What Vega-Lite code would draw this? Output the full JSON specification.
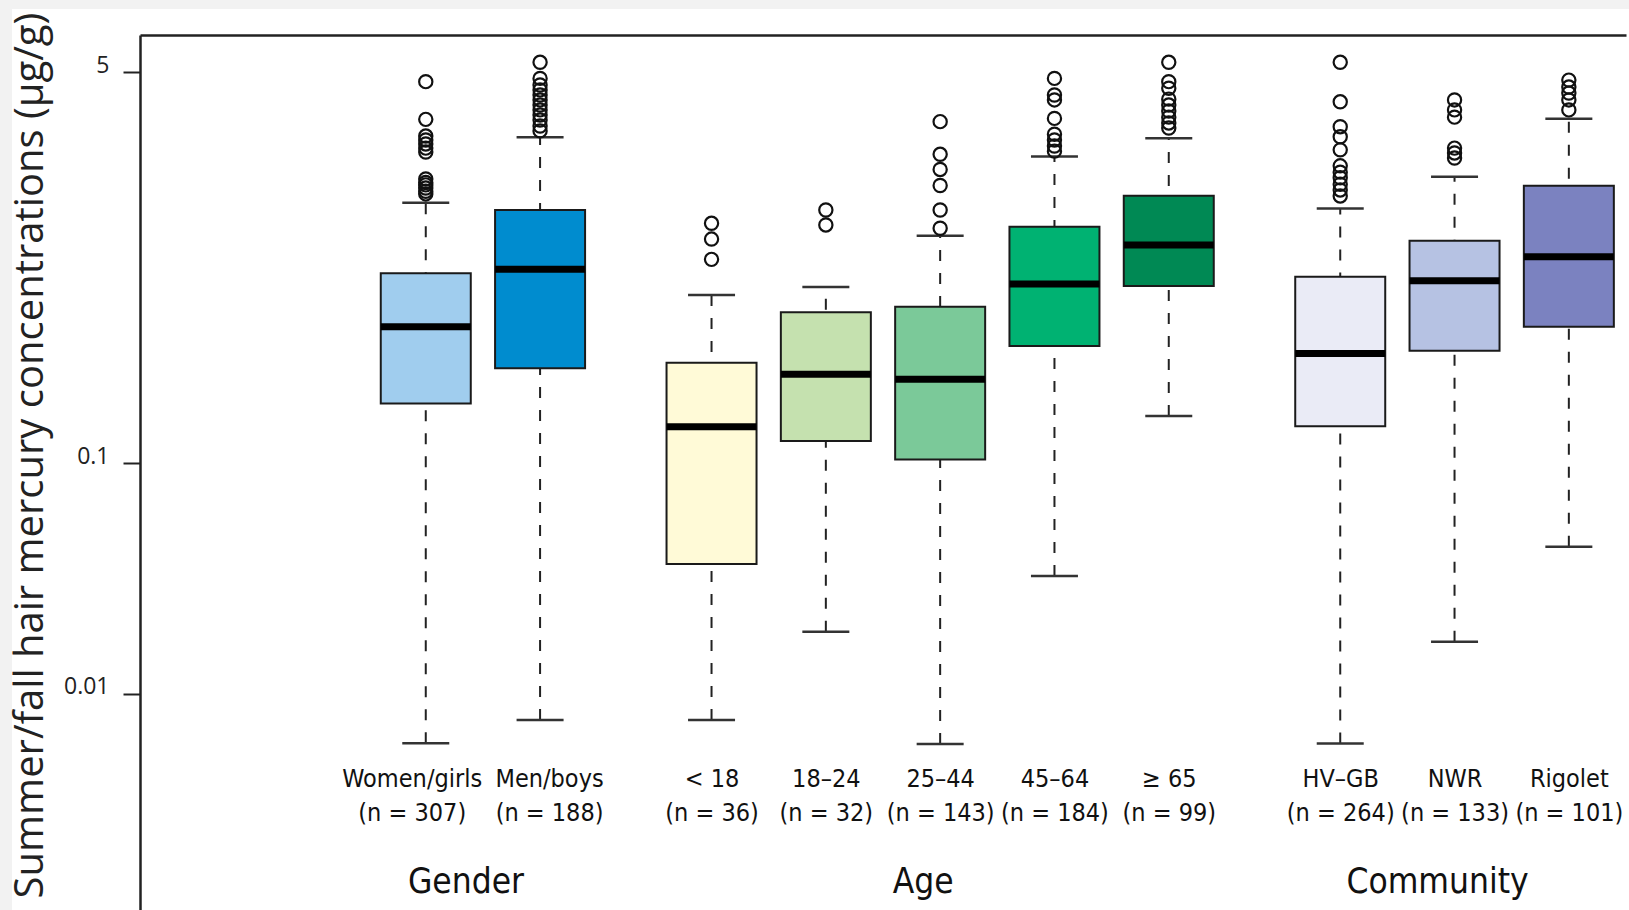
{
  "$schema": "https://vega.github.io/schema/vega-lite/v6.json",
  "width": 1617,
  "height": 901,
  "autosize": {"type": "none"},
  "padding": {"left": 12, "top": 9, "right": 0, "bottom": 0},
  "background": "#f2f2f2",
  "config": {"view": {"stroke": null, "fill": "#ffffff"}},
  "datasets": {
    "boxes": [
      {"label": "Women/girls (n = 307)", "group": "Gender", "lower": 0.00608, "q1": 0.182, "median": 0.392, "q3": 0.669, "upper": 1.356},
      {"label": "Men/boys (n = 188)", "group": "Gender", "lower": 0.00767, "q1": 0.259, "median": 0.697, "q3": 1.26, "upper": 2.61},
      {"label": "< 18 (n = 36)", "group": "Age", "lower": 0.00767, "q1": 0.0365, "median": 0.144, "q3": 0.2735, "upper": 0.538},
      {"label": "18–24 (n = 32)", "group": "Age", "lower": 0.01855, "q1": 0.125, "median": 0.244, "q3": 0.453, "upper": 0.583},
      {"label": "25–44 (n = 143)", "group": "Age", "lower": 0.00604, "q1": 0.104, "median": 0.232, "q3": 0.479, "upper": 0.975},
      {"label": "45–64 (n = 184)", "group": "Age", "lower": 0.0324, "q1": 0.323, "median": 0.601, "q3": 1.067, "upper": 2.15},
      {"label": "≥ 65 (n = 99)", "group": "Age", "lower": 0.1605, "q1": 0.589, "median": 0.888, "q3": 1.454, "upper": 2.58},
      {"label": "HV–GB (n = 264)", "group": "Community", "lower": 0.00607, "q1": 0.145, "median": 0.300, "q3": 0.646, "upper": 1.28},
      {"label": "NWR (n = 133)", "group": "Community", "lower": 0.0168, "q1": 0.308, "median": 0.621, "q3": 0.927, "upper": 1.758},
      {"label": "Rigolet (n = 101)", "group": "Community", "lower": 0.0434, "q1": 0.392, "median": 0.790, "q3": 1.607, "upper": 3.14}
    ],
    "outliers": [
      {"label": "Women/girls (n = 307)", "value": 4.55},
      {"label": "Women/girls (n = 307)", "value": 3.12},
      {"label": "Women/girls (n = 307)", "value": 2.64},
      {"label": "Women/girls (n = 307)", "value": 2.54},
      {"label": "Women/girls (n = 307)", "value": 2.44},
      {"label": "Women/girls (n = 307)", "value": 2.34},
      {"label": "Women/girls (n = 307)", "value": 2.25},
      {"label": "Women/girls (n = 307)", "value": 1.72},
      {"label": "Women/girls (n = 307)", "value": 1.66},
      {"label": "Women/girls (n = 307)", "value": 1.62},
      {"label": "Women/girls (n = 307)", "value": 1.57},
      {"label": "Women/girls (n = 307)", "value": 1.52},
      {"label": "Women/girls (n = 307)", "value": 1.48},
      {"label": "Men/boys (n = 188)", "value": 5.52},
      {"label": "Men/boys (n = 188)", "value": 4.70},
      {"label": "Men/boys (n = 188)", "value": 4.40},
      {"label": "Men/boys (n = 188)", "value": 4.19},
      {"label": "Men/boys (n = 188)", "value": 3.98},
      {"label": "Men/boys (n = 188)", "value": 3.79},
      {"label": "Men/boys (n = 188)", "value": 3.60},
      {"label": "Men/boys (n = 188)", "value": 3.43},
      {"label": "Men/boys (n = 188)", "value": 3.26},
      {"label": "Men/boys (n = 188)", "value": 3.10},
      {"label": "Men/boys (n = 188)", "value": 2.92},
      {"label": "Men/boys (n = 188)", "value": 2.78},
      {"label": "< 18 (n = 36)", "value": 1.103},
      {"label": "< 18 (n = 36)", "value": 0.942},
      {"label": "< 18 (n = 36)", "value": 0.769},
      {"label": "18–24 (n = 32)", "value": 1.26},
      {"label": "18–24 (n = 32)", "value": 1.085},
      {"label": "25–44 (n = 143)", "value": 3.05},
      {"label": "25–44 (n = 143)", "value": 2.20},
      {"label": "25–44 (n = 143)", "value": 1.89},
      {"label": "25–44 (n = 143)", "value": 1.61},
      {"label": "25–44 (n = 143)", "value": 1.26},
      {"label": "25–44 (n = 143)", "value": 1.05},
      {"label": "45–64 (n = 184)", "value": 4.70},
      {"label": "45–64 (n = 184)", "value": 3.98},
      {"label": "45–64 (n = 184)", "value": 3.79},
      {"label": "45–64 (n = 184)", "value": 3.15},
      {"label": "45–64 (n = 184)", "value": 2.69},
      {"label": "45–64 (n = 184)", "value": 2.54},
      {"label": "45–64 (n = 184)", "value": 2.39},
      {"label": "45–64 (n = 184)", "value": 2.27},
      {"label": "≥ 65 (n = 99)", "value": 5.52},
      {"label": "≥ 65 (n = 99)", "value": 4.55},
      {"label": "≥ 65 (n = 99)", "value": 4.26},
      {"label": "≥ 65 (n = 99)", "value": 3.82},
      {"label": "≥ 65 (n = 99)", "value": 3.60},
      {"label": "≥ 65 (n = 99)", "value": 3.39},
      {"label": "≥ 65 (n = 99)", "value": 3.19},
      {"label": "≥ 65 (n = 99)", "value": 3.01},
      {"label": "≥ 65 (n = 99)", "value": 2.86},
      {"label": "HV–GB (n = 264)", "value": 5.52},
      {"label": "HV–GB (n = 264)", "value": 3.72},
      {"label": "HV–GB (n = 264)", "value": 2.90},
      {"label": "HV–GB (n = 264)", "value": 2.62},
      {"label": "HV–GB (n = 264)", "value": 2.30},
      {"label": "HV–GB (n = 264)", "value": 1.96},
      {"label": "HV–GB (n = 264)", "value": 1.84},
      {"label": "HV–GB (n = 264)", "value": 1.74},
      {"label": "HV–GB (n = 264)", "value": 1.63},
      {"label": "HV–GB (n = 264)", "value": 1.54},
      {"label": "HV–GB (n = 264)", "value": 1.45},
      {"label": "NWR (n = 133)", "value": 3.79},
      {"label": "NWR (n = 133)", "value": 3.43},
      {"label": "NWR (n = 133)", "value": 3.19},
      {"label": "NWR (n = 133)", "value": 2.34},
      {"label": "NWR (n = 133)", "value": 2.23},
      {"label": "NWR (n = 133)", "value": 2.12},
      {"label": "Rigolet (n = 101)", "value": 4.62},
      {"label": "Rigolet (n = 101)", "value": 4.31},
      {"label": "Rigolet (n = 101)", "value": 4.06},
      {"label": "Rigolet (n = 101)", "value": 3.79},
      {"label": "Rigolet (n = 101)", "value": 3.43}
    ]
  },
  "resolve": {"axis": {"x": "independent"}},
  "layer": [
    {
      "data": {"name": "boxes"},
      "mark": {"type": "rule", "strokeDash": [11, 12], "strokeWidth": 2, "color": "#222222"},
      "encoding": {
        "x": {
          "field": "label", "type": "nominal",
          "scale": {"type": "point", "padding": 0, "range": [128, 1614], "domain": ["_0", "_1", "_2", "_3", "_4", "Women/girls (n = 307)", "Gender", "Men/boys (n = 188)", "_8", "_9", "< 18 (n = 36)", "_11", "18–24 (n = 32)", "_13", "25–44 (n = 143)", "_15", "45–64 (n = 184)", "_17", "≥ 65 (n = 99)", "_19", "_20", "HV–GB (n = 264)", "_22", "NWR (n = 133)", "_24", "Rigolet (n = 101)", "_26"]},
          "axis": {
            "orient": "bottom", "offset": -124,
            "values": ["Women/girls (n = 307)", "Men/boys (n = 188)", "< 18 (n = 36)", "18–24 (n = 32)", "25–44 (n = 143)", "45–64 (n = 184)", "≥ 65 (n = 99)", "HV–GB (n = 264)", "NWR (n = 133)", "Rigolet (n = 101)"],
            "labelExpr": "split(replace(datum.label, ' (', '|('), '|')",
            "labelOffset": {"condition": [{"test": "datum.value == 'Women/girls (n = 307)'", "value": -14}, {"test": "datum.value == 'Men/boys (n = 188)'", "value": 9}], "value": 0},
            "domain": false, "ticks": false, "tickSize": 0, "grid": false, "labelPadding": 0,
            "labelFont": "DejaVu Sans Condensed, Roboto", "labelFontSize": 25, "labelColor": "#111111",
            "labelLineHeight": 34, "labelBaseline": "alphabetic", "labelAngle": 0, "labelAlign": "center",
            "labelOverlap": false, "labelBound": false, "labelFlush": false, "labelLimit": 0, "title": null
          }
        },
        "y": {
          "field": "lower", "type": "quantitative",
          "scale": {"type": "log", "domain": [0.0011468, 7.255], "nice": false, "range": [901, 26]},
          "axis": {
            "orient": "left", "offset": -128,
            "values": [0.01, 0.1, 5], "format": "~g",
            "title": "Summer/fall hair mercury concentrations (µg/g)",
            "titleFont": "Open Sans", "titleFontSize": 40, "titleFontWeight": "normal", "titleColor": "#222222",
            "titleX": -98, "titleY": 446, "titleAngle": 270, "titleAlign": "center", "titleBaseline": "alphabetic",
            "labelFont": "Open Sans", "labelFontSize": 23, "labelColor": "#222222", "labelPadding": 14,
            "labelBaseline": "alphabetic", "labelBound": false, "labelFlush": false, "labelOverlap": false,
            "tickSize": 17, "tickWidth": 2, "tickColor": "#222222",
            "domain": true, "domainWidth": 2.5, "domainColor": "#222222", "grid": false
          }
        },
        "y2": {"field": "upper"}
      }
    },
    {
      "data": {"name": "boxes"},
      "mark": {"type": "tick", "orient": "horizontal", "size": 47, "thickness": 2.5, "color": "#333333", "opacity": 1},
      "encoding": {
        "x": {
          "field": "label", "type": "nominal",
          "scale": {"type": "point", "padding": 0, "range": [128, 1614], "domain": ["_0", "_1", "_2", "_3", "_4", "Women/girls (n = 307)", "Gender", "Men/boys (n = 188)", "_8", "_9", "< 18 (n = 36)", "_11", "18–24 (n = 32)", "_13", "25–44 (n = 143)", "_15", "45–64 (n = 184)", "_17", "≥ 65 (n = 99)", "_19", "_20", "HV–GB (n = 264)", "_22", "NWR (n = 133)", "_24", "Rigolet (n = 101)", "_26"]},
          "axis": {
            "orient": "bottom", "offset": -17.5,
            "values": ["Gender", "25–44 (n = 143)", "NWR (n = 133)"],
            "labelExpr": "datum.value == 'Gender' ? 'Gender' : (datum.value == 'NWR (n = 133)' ? 'Community' : 'Age')",
            "labelOffset": -17.5,
            "domain": false, "ticks": false, "tickSize": 0, "grid": false, "labelPadding": 0,
            "labelFont": "DejaVu Sans Condensed, Roboto", "labelFontSize": 35, "labelColor": "#111111",
            "labelBaseline": "alphabetic", "labelAngle": 0, "labelAlign": "center",
            "labelOverlap": false, "labelBound": false, "labelFlush": false, "labelLimit": 0, "title": null
          }
        },
        "y": {
          "field": "lower", "type": "quantitative",
          "scale": {"type": "log", "domain": [0.0011468, 7.255], "nice": false, "range": [901, 26]},
          "axis": {
            "orient": "left", "offset": -128,
            "values": [0.01, 0.1, 5], "format": "~g",
            "title": "Summer/fall hair mercury concentrations (µg/g)",
            "titleFont": "Open Sans", "titleFontSize": 40, "titleFontWeight": "normal", "titleColor": "#222222",
            "titleX": -98, "titleY": 446, "titleAngle": 270, "titleAlign": "center", "titleBaseline": "alphabetic",
            "labelFont": "Open Sans", "labelFontSize": 23, "labelColor": "#222222", "labelPadding": 14,
            "labelBaseline": "alphabetic", "labelBound": false, "labelFlush": false, "labelOverlap": false,
            "tickSize": 17, "tickWidth": 2, "tickColor": "#222222",
            "domain": true, "domainWidth": 2.5, "domainColor": "#222222", "grid": false
          }
        }
      }
    },
    {
      "data": {"name": "boxes"},
      "mark": {"type": "tick", "orient": "horizontal", "size": 47, "thickness": 2.5, "color": "#333333", "opacity": 1},
      "encoding": {
        "x": {
          "field": "label", "type": "nominal",
          "scale": {"type": "point", "padding": 0, "range": [128, 1614], "domain": ["_0", "_1", "_2", "_3", "_4", "Women/girls (n = 307)", "Gender", "Men/boys (n = 188)", "_8", "_9", "< 18 (n = 36)", "_11", "18–24 (n = 32)", "_13", "25–44 (n = 143)", "_15", "45–64 (n = 184)", "_17", "≥ 65 (n = 99)", "_19", "_20", "HV–GB (n = 264)", "_22", "NWR (n = 133)", "_24", "Rigolet (n = 101)", "_26"]},
          "axis": {"orient": "top", "offset": -26, "labels": false, "ticks": false, "grid": false, "domain": true, "domainColor": "#222222", "domainWidth": 2.5, "title": null}
        },
        "y": {
          "field": "upper", "type": "quantitative",
          "scale": {"type": "log", "domain": [0.0011468, 7.255], "nice": false, "range": [901, 26]},
          "axis": {
            "orient": "left", "offset": -128,
            "values": [0.01, 0.1, 5], "format": "~g",
            "title": "Summer/fall hair mercury concentrations (µg/g)",
            "titleFont": "Open Sans", "titleFontSize": 40, "titleFontWeight": "normal", "titleColor": "#222222",
            "titleX": -98, "titleY": 446, "titleAngle": 270, "titleAlign": "center", "titleBaseline": "alphabetic",
            "labelFont": "Open Sans", "labelFontSize": 23, "labelColor": "#222222", "labelPadding": 14,
            "labelBaseline": "alphabetic", "labelBound": false, "labelFlush": false, "labelOverlap": false,
            "tickSize": 17, "tickWidth": 2, "tickColor": "#222222",
            "domain": true, "domainWidth": 2.5, "domainColor": "#222222", "grid": false
          }
        }
      }
    },
    {
      "data": {"name": "boxes"},
      "mark": {"type": "bar", "width": 90, "stroke": "#1a1a1a", "strokeWidth": 2, "opacity": 1},
      "encoding": {
        "x": {
          "field": "label", "type": "nominal",
          "scale": {"type": "point", "padding": 0, "range": [128, 1614], "domain": ["_0", "_1", "_2", "_3", "_4", "Women/girls (n = 307)", "Gender", "Men/boys (n = 188)", "_8", "_9", "< 18 (n = 36)", "_11", "18–24 (n = 32)", "_13", "25–44 (n = 143)", "_15", "45–64 (n = 184)", "_17", "≥ 65 (n = 99)", "_19", "_20", "HV–GB (n = 264)", "_22", "NWR (n = 133)", "_24", "Rigolet (n = 101)", "_26"]},
          "axis": null
        },
        "y": {
          "field": "q1", "type": "quantitative",
          "scale": {"type": "log", "domain": [0.0011468, 7.255], "nice": false, "range": [901, 26]},
          "axis": {
            "orient": "left", "offset": -128,
            "values": [0.01, 0.1, 5], "format": "~g",
            "title": "Summer/fall hair mercury concentrations (µg/g)",
            "titleFont": "Open Sans", "titleFontSize": 40, "titleFontWeight": "normal", "titleColor": "#222222",
            "titleX": -98, "titleY": 446, "titleAngle": 270, "titleAlign": "center", "titleBaseline": "alphabetic",
            "labelFont": "Open Sans", "labelFontSize": 23, "labelColor": "#222222", "labelPadding": 14,
            "labelBaseline": "alphabetic", "labelBound": false, "labelFlush": false, "labelOverlap": false,
            "tickSize": 17, "tickWidth": 2, "tickColor": "#222222",
            "domain": true, "domainWidth": 2.5, "domainColor": "#222222", "grid": false
          }
        },
        "y2": {"field": "q3"},
        "color": {
          "field": "label", "type": "nominal", "legend": null,
          "scale": {
            "domain": ["Women/girls (n = 307)", "Men/boys (n = 188)", "< 18 (n = 36)", "18–24 (n = 32)", "25–44 (n = 143)", "45–64 (n = 184)", "≥ 65 (n = 99)", "HV–GB (n = 264)", "NWR (n = 133)", "Rigolet (n = 101)"],
            "range": ["#a0cdee", "#008ccf", "#fffad7", "#c5e1af", "#7bc999", "#00b272", "#008954", "#eaebf6", "#b6c2e3", "#7b82c0"]
          }
        }
      }
    },
    {
      "data": {"name": "boxes"},
      "mark": {"type": "tick", "orient": "horizontal", "size": 90, "thickness": 7, "color": "#000000", "opacity": 1},
      "encoding": {
        "x": {
          "field": "label", "type": "nominal",
          "scale": {"type": "point", "padding": 0, "range": [128, 1614], "domain": ["_0", "_1", "_2", "_3", "_4", "Women/girls (n = 307)", "Gender", "Men/boys (n = 188)", "_8", "_9", "< 18 (n = 36)", "_11", "18–24 (n = 32)", "_13", "25–44 (n = 143)", "_15", "45–64 (n = 184)", "_17", "≥ 65 (n = 99)", "_19", "_20", "HV–GB (n = 264)", "_22", "NWR (n = 133)", "_24", "Rigolet (n = 101)", "_26"]},
          "axis": null
        },
        "y": {
          "field": "median", "type": "quantitative",
          "scale": {"type": "log", "domain": [0.0011468, 7.255], "nice": false, "range": [901, 26]},
          "axis": {
            "orient": "left", "offset": -128,
            "values": [0.01, 0.1, 5], "format": "~g",
            "title": "Summer/fall hair mercury concentrations (µg/g)",
            "titleFont": "Open Sans", "titleFontSize": 40, "titleFontWeight": "normal", "titleColor": "#222222",
            "titleX": -98, "titleY": 446, "titleAngle": 270, "titleAlign": "center", "titleBaseline": "alphabetic",
            "labelFont": "Open Sans", "labelFontSize": 23, "labelColor": "#222222", "labelPadding": 14,
            "labelBaseline": "alphabetic", "labelBound": false, "labelFlush": false, "labelOverlap": false,
            "tickSize": 17, "tickWidth": 2, "tickColor": "#222222",
            "domain": true, "domainWidth": 2.5, "domainColor": "#222222", "grid": false
          }
        }
      }
    },
    {
      "data": {"name": "outliers"},
      "mark": {"type": "point", "shape": "circle", "filled": false, "size": 175, "strokeWidth": 2.2, "color": "#111111", "opacity": 1},
      "encoding": {
        "x": {
          "field": "label", "type": "nominal",
          "scale": {"type": "point", "padding": 0, "range": [128, 1614], "domain": ["_0", "_1", "_2", "_3", "_4", "Women/girls (n = 307)", "Gender", "Men/boys (n = 188)", "_8", "_9", "< 18 (n = 36)", "_11", "18–24 (n = 32)", "_13", "25–44 (n = 143)", "_15", "45–64 (n = 184)", "_17", "≥ 65 (n = 99)", "_19", "_20", "HV–GB (n = 264)", "_22", "NWR (n = 133)", "_24", "Rigolet (n = 101)", "_26"]},
          "axis": null
        },
        "y": {
          "field": "value", "type": "quantitative",
          "scale": {"type": "log", "domain": [0.0011468, 7.255], "nice": false, "range": [901, 26]},
          "axis": {
            "orient": "left", "offset": -128,
            "values": [0.01, 0.1, 5], "format": "~g",
            "title": "Summer/fall hair mercury concentrations (µg/g)",
            "titleFont": "Open Sans", "titleFontSize": 40, "titleFontWeight": "normal", "titleColor": "#222222",
            "titleX": -98, "titleY": 446, "titleAngle": 270, "titleAlign": "center", "titleBaseline": "alphabetic",
            "labelFont": "Open Sans", "labelFontSize": 23, "labelColor": "#222222", "labelPadding": 14,
            "labelBaseline": "alphabetic", "labelBound": false, "labelFlush": false, "labelOverlap": false,
            "tickSize": 17, "tickWidth": 2, "tickColor": "#222222",
            "domain": true, "domainWidth": 2.5, "domainColor": "#222222", "grid": false
          }
        }
      }
    }
  ]
}
